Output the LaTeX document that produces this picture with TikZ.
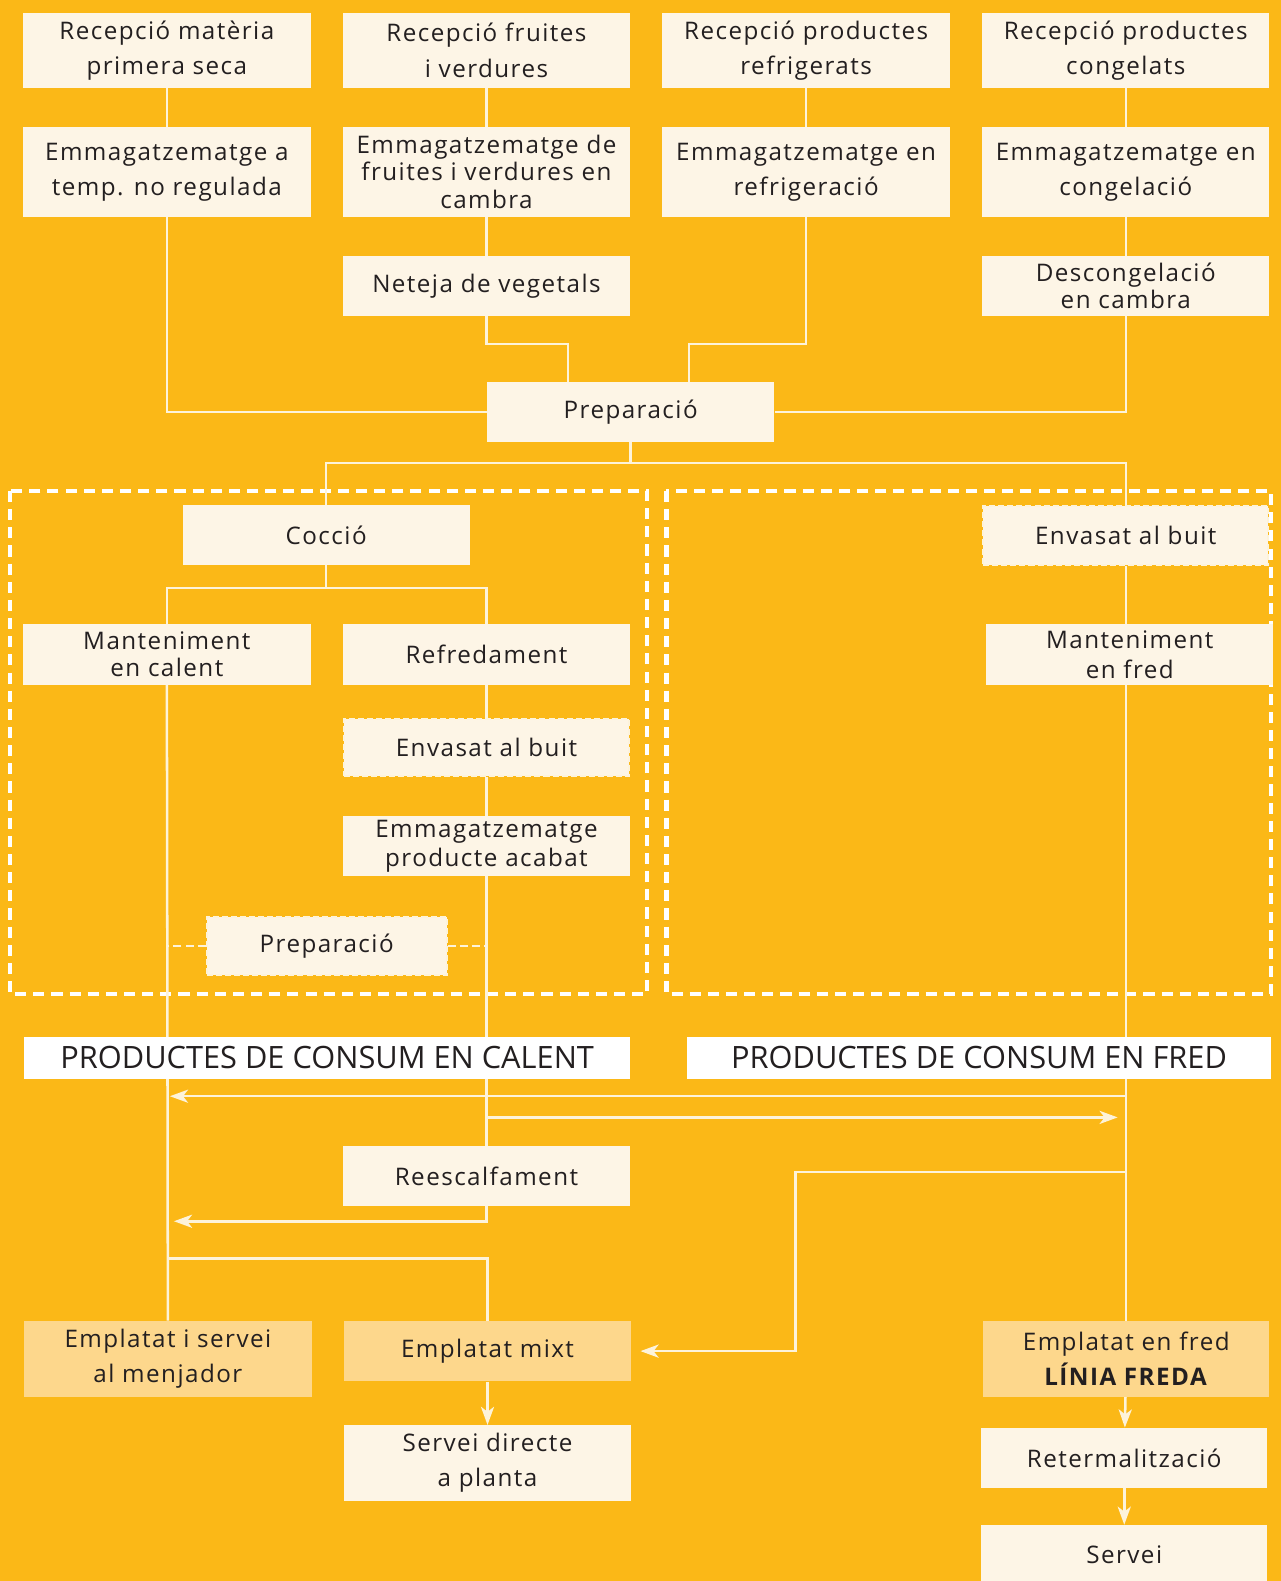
\documentclass[tikz,border=0pt]{standalone}
\usepackage{fontspec}
\setmainfont{Open Sans}[LetterSpace=6]
\newfontfamily\headfont{Open Sans}
\usetikzlibrary{positioning,arrows.meta,backgrounds}
\definecolor{bgc}{HTML}{FBB817}
\definecolor{cream}{HTML}{FDF5E6}
\definecolor{plat}{HTML}{FDD78C}
\definecolor{linec}{HTML}{FDF3DA}
\definecolor{txt}{HTML}{231F20}
\tikzset{block/.style={fill=cream, text=txt, minimum width=285pt, minimum height=59pt, inner sep=0pt, align=center, font=\fontsize{24}{35}\selectfont},
  tight/.style={font=\fontsize{24}{27}\selectfont},
  dblock/.style={block, draw=linec, line width=2pt, dash pattern=on 6pt off 3pt},
  head/.style={block, fill=white, minimum height=42pt, font=\headfont\fontsize{30.5}{35}\selectfont},
  plated/.style={block, fill=plat},
  frame/.style={draw=white, line width=4pt, dash pattern=on 11pt off 7pt},
  line/.style={draw=linec, line width=2.5pt},
  dline/.style={line, dash pattern=on 8pt off 4pt},
  flow/.style={line, -{Stealth[length=18pt,width=13pt,inset=5pt]}}}

\begin{document}
\begin{tikzpicture}[x=1pt, y=-1pt]
    \useasboundingbox (0,0) rectangle (1270,1568);

    % reception and storage
    \node[block, minimum height=74pt] (r1) at (165.5,50) {Recepció matèria\\primera seca};
    \node[block, minimum height=74pt] (r2) at (482.5,50) {Recepció fruites\\i verdures};
    \node[block, minimum height=74pt] (r3) at (799.5,50) {Recepció productes\\refrigerats};
    \node[block, minimum height=74pt] (r4) at (1116.5,50) {Recepció productes\\congelats};
    \node[block, minimum height=89pt] (e1) at (165.5,170.5) {Emmagatzematge a\\temp. no regulada};
    \node[block, tight, minimum height=89pt] (e2) at (482.5,170.5) {Emmagatzematge de\\fruites i verdures en\\cambra};
    \node[block, minimum height=89pt] (e3) at (799.5,170.5) {Emmagatzematge en\\refrigeració};
    \node[block, minimum height=89pt] (e4) at (1116.5,170.5) {Emmagatzematge en\\congelació};
    \node[block] (net) at (482.5,283.5) {Neteja de vegetals};
    \node[block, tight] (desc) at (1116.5,283.5) {Descongelació\\en cambra};
    \node[block] (prep) at (625.5,408.5) {Preparació};

    % hot line
    \node[block] (cocc) at (323.5,530.5) {Cocció};
    \node[block, tight, minimum height=60pt] (mcal) at (165.5,649) {Manteniment\\en calent};
    \node[block, minimum height=60pt] (refr) at (482.5,649) {Refredament};
    \node[dblock, minimum width=283pt, minimum height=57pt] (envc) at (482.5,741.5) {Envasat al buit};
    \node[block, font=\fontsize{24}{29}\selectfont, minimum height=60pt] (emag) at (482.5,839) {Emmagatzematge\\producte acabat};
    \node[dblock, minimum width=238pt, minimum height=58pt] (prep2) at (324,938) {Preparació};

    % cold line
    \node[dblock, minimum width=283pt, minimum height=58pt] (envf) at (1116.5,531) {Envasat al buit};
    \node[block, font=\fontsize{24}{30}\selectfont, minimum height=60pt] (mfred) at (1120.5,649) {Manteniment\\en fred};

    \node[head, minimum width=601pt] (pcal) at (324.5,1049) {PRODUCTES DE CONSUM EN CALENT};
    \node[head, minimum width=580pt] (pfred) at (971,1049) {PRODUCTES DE CONSUM EN FRED};

    \node[block] (rees) at (482.5,1166.5) {Reescalfament};
    \node[plated, minimum height=75pt] (empc) at (166.5,1347.5) {Emplatat i servei\\al menjador};
    \node[plated, minimum height=60pt] (empm) at (483.5,1340) {Emplatat mixt};
    \node[plated, minimum width=284pt, minimum height=75pt] (empf) at (1117,1347.5) {Emplatat en fred\\\textbf{LÍNIA FREDA}};
    \node[block, minimum height=75pt, below=43pt of empm] (sdir) {Servei directe\\a planta};
    \node[block, minimum width=284pt, minimum height=60pt] (ret) at (1115,1446) {Retermalització};
    \node[block, minimum width=284pt, minimum height=60pt, below=36pt of ret] (serv) {Servei};

    \coordinate (hy1) at ([yshift=-17pt]pcal.south);
    \coordinate (hy2) at ([yshift=-38pt]pcal.south);
    \coordinate (hy3) at ([yshift=-15pt]rees.south);
    \coordinate (hy4) at ([yshift=4pt]rees.center);
    \coordinate (hy5) at ([yshift=-52pt]rees.south);

    \begin{scope}[on background layer]
    \fill[bgc] (0,0) rectangle (1270,1568);
    \draw[frame] (10,487) rectangle (642,986);
    \draw[frame] (661,487) rectangle (1261,986);

    \draw[line] (r1) -- (e1);
    \draw[line] (r2) -- (e2) -- (net);
    \draw[line] (r3) -- (e3);
    \draw[line] (r4) -- (e4) -- (desc);
    \draw[line] (e1.south) |- (prep.west);
    \draw[line] (net.south) -- ++(0,28) -| ([xshift=-62pt]prep.north);
    \draw[line] (e3.south) -- ++(0,126) -| ([xshift=58pt]prep.north);
    \draw[line] (desc.south) |- (prep.east);
    \draw[line] (prep.south) -- ++(0,21);
    \draw[line] (cocc.north) |- ([yshift=-21pt]prep.south) -| (envf.north);
    \draw[line] (cocc.south) -- ++(0,23);
    \draw[line] (mcal.north) |- ([yshift=-23pt]cocc.south) -| (refr.north);
    \draw[line] (refr) -- (envc) -- (emag) -- (rees);
    \draw[line] (mcal.south) -- (empc.north);
    \draw[dline] (prep2.west) -- (prep2.west -| mcal.south);
    \draw[dline] (prep2.east) -- (prep2.east -| emag.south);
    \draw[line] (envf.south) -- (envf.south |- empf.north);

    \draw[flow, shorten >=3pt] (hy1 -| envf.south) -- (hy1 -| mcal.south);
    \draw[flow, shorten >=8pt] (hy2 -| rees.north) -- (hy2 -| envf.south);
    \draw[flow, shorten >=7pt] (rees.south) |- (hy3 -| mcal.south);
    \draw[line] (hy5 -| mcal.south) -| (empm.north);
    \draw[flow, shorten >=9pt] (hy4 -| envf.south) -| ([xshift=163pt]empm.east) -- (empm.east);
    \draw[flow] (empm) -- (sdir);
    \draw[flow] (empf) -- (ret);
    \draw[flow] (ret) -- (serv);
    \end{scope}
\end{tikzpicture}
\end{document}
